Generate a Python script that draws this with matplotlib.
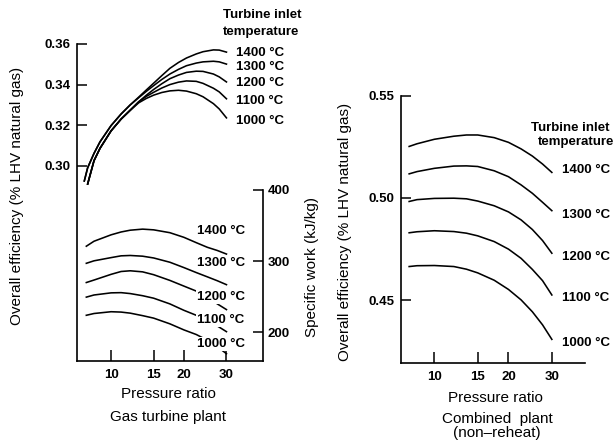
import matplotlib
matplotlib.use("Agg")
import matplotlib.pyplot as plt
from matplotlib.ticker import FixedLocator, NullLocator

plt.rcParams['font.family'] = ['Liberation Sans', 'DejaVu Sans']

temps = ["1400 °C", "1300 °C", "1200 °C", "1100 °C", "1000 °C"]
pr_ticks = [10, 15, 20, 30]

# gas turbine plant, overall efficiency (left axis)
# 1400/1300 start a little further left than the other three
gt_pr_hi = [7.75, 8, 8.5, 9, 10, 11, 12, 13, 14, 15, 16.2, 17.5, 19, 20.5, 22.5, 24, 26.5, 28, 30]
gt_pr_lo = gt_pr_hi[1:]
eff_1400 = [0.2925, 0.2990, 0.3061, 0.3118, 0.3198, 0.3255, 0.3300, 0.3338, 0.3374, 0.3407,
            0.3444, 0.3480, 0.3509, 0.3531, 0.3551, 0.3562, 0.3571, 0.3570, 0.3560]
eff_1300 = [0.2925, 0.2990, 0.3061, 0.3118, 0.3198, 0.3255, 0.3300, 0.3335, 0.3367, 0.3395,
            0.3425, 0.3452, 0.3475, 0.3493, 0.3506, 0.3512, 0.3515, 0.3512, 0.3501]
eff_1200 = [0.2910, 0.3025, 0.3086, 0.3172, 0.3230, 0.3274, 0.3315, 0.3348, 0.3376,
            0.3404, 0.3429, 0.3447, 0.3460, 0.3466, 0.3465, 0.3452, 0.3438, 0.3413]
eff_1100 = [0.2910, 0.3025, 0.3086, 0.3172, 0.3230, 0.3274, 0.3315, 0.3342, 0.3362,
            0.3383, 0.3400, 0.3412, 0.3418, 0.3416, 0.3406, 0.3382, 0.3364, 0.3330]
eff_1000 = [0.2910, 0.3025, 0.3086, 0.3172, 0.3230, 0.3273, 0.3310, 0.3332, 0.3348,
            0.3361, 0.3369, 0.3372, 0.3368, 0.3355, 0.3340, 0.3306, 0.3280, 0.3236]

# gas turbine plant, specific work kJ/kg (right axis)
gt_pr_work = [7.9, 8.5, 10, 11, 12, 13.5, 15, 17.5, 20, 22.5, 25, 27.5, 30]
work_1400 = [321, 328, 337, 341, 343.5, 345, 344, 340, 333.5, 326, 319.5, 315, 310]
work_1300 = [297, 300.5, 305, 307.5, 308, 307, 304.5, 298.5, 291, 284, 278, 272.5, 267]
work_1200 = [270, 273.5, 281.5, 285.5, 286.5, 285, 281, 273, 265, 258, 249, 240, 232]
work_1100 = [249.5, 252.5, 255.5, 255.8, 254.5, 251.5, 248, 240, 231, 224, 217, 209, 201]
work_1000 = [224, 226.5, 229, 228.5, 227, 223.5, 220, 212, 203.5, 197, 189, 180, 170]

# combined plant (non-reheat), overall efficiency
cc_pr = [7.9, 8.5, 10, 12, 13.5, 15, 17.5, 20, 22.5, 25, 27.5, 30]
cc_1400 = [0.5252, 0.5265, 0.5287, 0.5302, 0.5308, 0.5308, 0.5295, 0.5272, 0.5240, 0.5205, 0.5166, 0.5125]
cc_1300 = [0.5118, 0.5129, 0.5145, 0.5156, 0.5157, 0.5154, 0.5133, 0.5104, 0.5064, 0.5023, 0.4979, 0.4938]
cc_1200 = [0.4983, 0.4992, 0.4998, 0.4999, 0.4996, 0.4985, 0.4962, 0.4932, 0.4893, 0.4846, 0.4792, 0.4730]
cc_1100 = [0.4830, 0.4835, 0.4840, 0.4836, 0.4828, 0.4815, 0.4787, 0.4750, 0.4705, 0.4651, 0.4596, 0.4526]
cc_1000 = [0.4665, 0.4669, 0.4670, 0.4665, 0.4652, 0.4634, 0.4598, 0.4553, 0.4502, 0.4444, 0.4380, 0.4309]

W, H = 613, 444


def box(x0, y0, x1, y1):
    return [x0 / W, 1 - y1 / H, (x1 - x0) / W, (y1 - y0) / H]


def ftext(x, y, s, **kw):
    fig.text(x / W, 1 - y / H, s, **kw)


def bold_ticks(a):
    for t in a.get_xticklabels() + a.get_yticklabels():
        t.set_fontweight('bold')


def setup_x(a):
    a.set_xscale('log')
    a.xaxis.set_major_locator(FixedLocator(pr_ticks))
    a.xaxis.set_minor_locator(NullLocator())
    a.set_xticklabels([str(v) for v in pr_ticks])


fig = plt.figure(figsize=(6.13, 4.44), dpi=100)
lw = 1.15

# ---- gas turbine plant ----
ax = fig.add_axes(box(77.3, 44, 263.3, 361))
setup_x(ax)
ax.set_xlim(7.25, 42.6)
ax.set_ylim(0.2038, 0.36)
ax.spines['top'].set_visible(False)
ax.spines['right'].set_visible(False)
ax.set_yticks([0.30, 0.32, 0.34, 0.36])
ax.set_yticklabels(['0.30', '0.32', '0.34', '0.36'])
ax.tick_params(direction='in', length=7, width=1.1, labelsize=9.5, pad=5)
ax.tick_params(axis='x', length=8, pad=6)
for s in ax.spines.values():
    s.set_linewidth(1.2)
bold_ticks(ax)

for vals in [eff_1400, eff_1300]:
    ax.plot(gt_pr_hi, vals, color='black', lw=lw, solid_joinstyle='round')
for vals in [eff_1200, eff_1100, eff_1000]:
    ax.plot(gt_pr_lo, vals, color='black', lw=lw, solid_joinstyle='round')

eff_label_y = [0.3557, 0.3489, 0.3408, 0.3317, 0.3223]
for t, y in zip(temps, eff_label_y):
    ax.text(32.9, y, t, fontsize=9.5, fontweight='bold', va='center', ha='left', clip_on=False)

ax2 = ax.twinx()
ax2.set_ylim(159.8, 605)
for k in ['top', 'left', 'bottom']:
    ax2.spines[k].set_visible(False)
ax2.spines['right'].set_bounds(159.8, 400)
ax2.spines['right'].set_linewidth(1.2)
ax2.set_yticks([200, 300, 400])
ax2.set_yticklabels(['200', '300', '400'])
ax2.tick_params(direction='in', length=7, width=1.1, labelsize=9.5, pad=3)
bold_ticks(ax2)

for vals in [work_1400, work_1300, work_1200, work_1100, work_1000]:
    ax2.plot(gt_pr_work, vals, color='black', lw=lw, solid_joinstyle='round')

work_label_y = [342.4, 297.9, 249.3, 217.4, 183.7]
for i, (t, y) in enumerate(zip(temps, work_label_y)):
    kw = dict(facecolor='white', edgecolor='none', pad=0.6) if i >= 2 else None
    ax2.text(22.7, y, t, fontsize=9.5, fontweight='bold', va='center', ha='left',
             bbox=kw, zorder=5)

ftext(262, 15, "Turbine inlet", fontsize=9.5, fontweight='bold', ha='center', va='center')
ftext(261, 32, "temperature", fontsize=9.5, fontweight='bold', ha='center', va='center')
ftext(17, 196, "Overall efficiency (% LHV natural gas)", fontsize=11, rotation=90,
      ha='center', va='center')
ftext(312, 267, "Specific work (kJ/kg)", fontsize=11, rotation=90, ha='center', va='center')
ftext(168, 394, "Pressure ratio", fontsize=11, ha='center', va='center')
ftext(168, 417, "Gas turbine plant", fontsize=11, ha='center', va='center')

# ---- combined plant ----
bx = fig.add_axes(box(401, 95.7, 585, 362.7))
setup_x(bx)
bx.set_xlim(7.32, 40.9)
bx.set_ylim(0.4195, 0.55)
bx.spines['top'].set_visible(False)
bx.spines['right'].set_visible(False)
bx.set_yticks([0.45, 0.50, 0.55])
bx.set_yticklabels(['0.45', '0.50', '0.55'])
bx.tick_params(direction='in', length=7, width=1.1, labelsize=9.5, pad=5)
bx.tick_params(axis='x', length=8, pad=6)
for s in bx.spines.values():
    s.set_linewidth(1.2)
bold_ticks(bx)

for vals in [cc_1400, cc_1300, cc_1200, cc_1100, cc_1000]:
    bx.plot(cc_pr, vals, color='black', lw=lw, solid_joinstyle='round')

cc_label_y = [0.5137, 0.4917, 0.4713, 0.4510, 0.4290]
for t, y in zip(temps, cc_label_y):
    bx.text(32.9, y, t, fontsize=9.5, fontweight='bold', va='center', ha='left', clip_on=False)

ftext(531, 128, "Turbine inlet", fontsize=9.5, fontweight='bold', ha='left', va='center')
ftext(538, 142, "temperature", fontsize=9.5, fontweight='bold', ha='left', va='center')
ftext(345, 232, "Overall efficiency (% LHV natural gas)", fontsize=11, rotation=90,
      ha='center', va='center')
ftext(495, 398, "Pressure ratio", fontsize=11, ha='center', va='center')
ftext(497, 419, "Combined  plant", fontsize=11, ha='center', va='center')
ftext(497, 433, "(non\u2013reheat)", fontsize=11, ha='center', va='center')

fig.savefig("out.png", dpi=100)
